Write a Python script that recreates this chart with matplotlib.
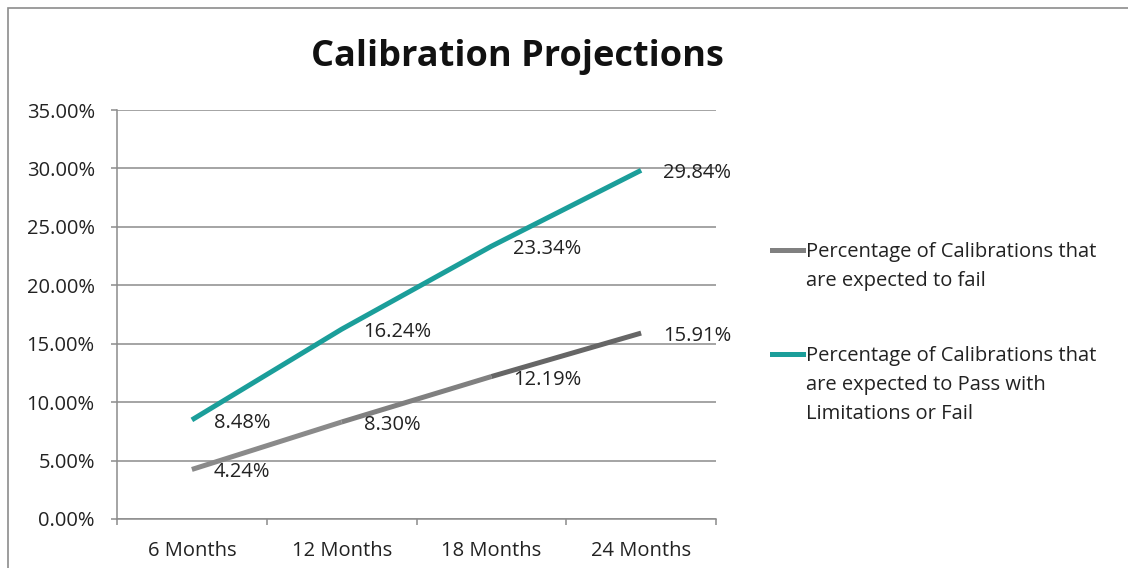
import matplotlib.pyplot as plt
from matplotlib.lines import Line2D
from matplotlib.patches import Rectangle

categories = ['6 Months', '12 Months', '18 Months', '24 Months']
fail_pct = [4.24, 8.30, 12.19, 15.91]
pass_limit_pct = [8.48, 16.24, 23.34, 29.84]
series_names = [
    'Percentage of Calibrations that\nare expected to fail',
    'Percentage of Calibrations that\nare expected to Pass with\nLimitations or Fail',
]
yticks = [0, 5, 10, 15, 20, 25, 30, 35]

plt.rcParams['font.family'] = ['Open Sans', 'DejaVu Sans']
FS = 14.5
TXT = '#222222'

fig = plt.figure(figsize=(11.28, 5.68), dpi=100)
fig.patch.set_facecolor('white')
# outer chart frame (runs off the right and bottom edges)
fig.add_artist(Rectangle((8 / 1128, -0.05), 1.2, (568 - 8) / 568 + 0.05,
                         transform=fig.transFigure, fill=False,
                         edgecolor='#8c8c8c', linewidth=1.2))

ax = fig.add_axes([117 / 1128, 49 / 568, 599 / 1128, 409 / 568])
x = list(range(len(categories)))

grid_col = '#8c8c8c'
for v in yticks:
    ax.axhline(v, color=grid_col, linewidth=1.1, zorder=1)

# gray series drawn segment by segment so it darkens towards the end
seg_cols = ['#8a8a8a', '#808080', '#666666']
for i in range(len(x) - 1):
    ax.plot(x[i:i + 2], fail_pct[i:i + 2], color=seg_cols[i], linewidth=3.6,
            solid_capstyle='butt', zorder=3)
ax.plot(x, pass_limit_pct, color='#1B9E9A', linewidth=3.6,
        solid_capstyle='butt', zorder=3)

for xs, ys in ((x, fail_pct), (x, pass_limit_pct)):
    for xi, yi in zip(xs, ys):
        ax.annotate(f'{yi:.2f}%', (xi, yi), xytext=(22, -3),
                    textcoords='offset pixels', ha='left', va='center',
                    fontsize=FS, color=TXT, zorder=4)

ax.set_xlim(-0.5, 3.5)
ax.set_ylim(0, 35)
ax.set_yticks(yticks)
ax.set_yticklabels([f'{v:.2f}%' for v in yticks], fontsize=FS, color=TXT)
ax.set_xticks(x)
ax.set_xticklabels(categories, fontsize=FS, color=TXT)
ax.set_xticks([-0.5, 0.5, 1.5, 2.5, 3.5], minor=True)
ax.tick_params(axis='x', which='major', length=0, pad=16)
ax.tick_params(axis='x', which='minor', length=4, color=grid_col, width=1.1)
ax.tick_params(axis='y', length=4, color=grid_col, width=1.1, pad=12)
for side in ('top', 'right'):
    ax.spines[side].set_visible(False)
for side in ('left', 'bottom'):
    ax.spines[side].set_color(grid_col)
    ax.spines[side].set_linewidth(1.1)

fig.text(517 / 1128, 1 - 57 / 568, 'Calibration Projections', ha='center',
         va='center', fontsize=26, fontweight='bold', color='#111111')

# legend entries
legend_cols = ['#808080', '#1B9E9A']
legend_tops = [250, 354]
for name, col, top in zip(series_names, legend_cols, legend_tops):
    yf = 1 - top / 568
    fig.add_artist(Line2D([772 / 1128, 803 / 1128], [yf, yf], color=col,
                          linewidth=3.6, transform=fig.transFigure))
    fig.text(806 / 1128, yf + 8 / 568, name, ha='left', va='top',
             fontsize=FS, color=TXT, linespacing=1.6)

fig.savefig('out.png', dpi=100)
